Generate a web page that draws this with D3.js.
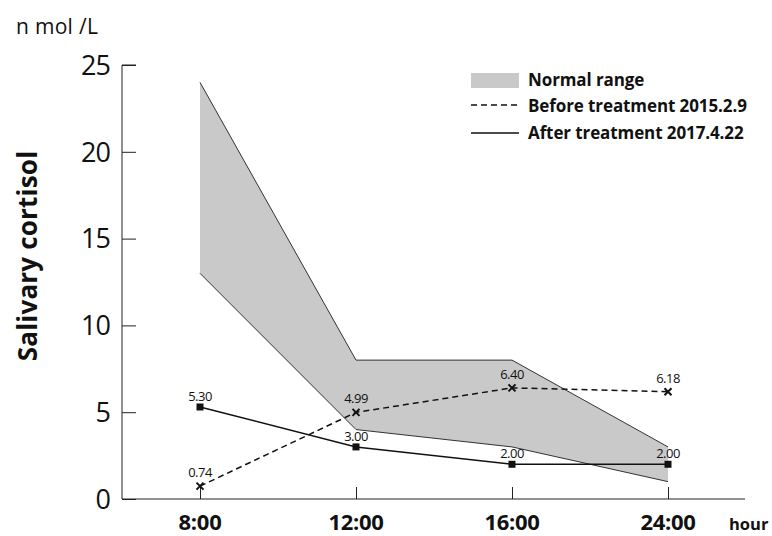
<!DOCTYPE html>
<html><head><meta charset="utf-8">
<script src="https://cdn.jsdelivr.net/npm/d3@7"></script>
<style>body{margin:0;background:#fff}svg{display:block}text{font-family:"Open Sans","Liberation Sans",sans-serif;fill:#111}</style>
</head><body><svg id="c" width="772" height="536"></svg>
<script>
const categories = ["8:00","12:00","16:00","24:00"];
const normalUpper = [24, 8, 8, 3];
const normalLower = [13, 4, 3, 1];
const beforeVals = [0.74, 4.99, 6.40, 6.18];
const afterVals = [5.30, 3.00, 2.00, 2.00];
const yTicks = [0,5,10,15,20,25];
const legendLabels = ["Normal range","Before treatment 2015.2.9","After treatment 2017.4.22"];

const svg = d3.select("#c");
const x = d3.scalePoint().domain(categories).range([200,668]);
const y = d3.scaleLinear().domain([0,25]).range([499,65]);

// normal range band
const area = d3.area().x((d,i)=>x(categories[i])).y0((d,i)=>y(normalLower[i])).y1(d=>y(d));
svg.append("path").datum(normalUpper).attr("d",area).attr("fill","#c9c9c9").attr("stroke","none");
const ln = d3.line().x((d,i)=>x(categories[i])).y(d=>y(d));
svg.append("path").datum(normalUpper).attr("d",ln).attr("fill","none").attr("stroke","#333").attr("stroke-width",1);
svg.append("path").datum(normalLower).attr("d",ln).attr("fill","none").attr("stroke","#333").attr("stroke-width",1);

// axes
const yAxis = svg.append("g").attr("transform","translate(122,0)")
  .call(d3.axisRight(y).tickValues(yTicks).tickSize(14).tickFormat(""));
yAxis.select(".domain").attr("d","M14,65H0V499");
yAxis.selectAll("line").attr("stroke","#222");
yAxis.select(".domain").attr("stroke","#222");
svg.append("g").selectAll("text").data(yTicks).join("text")
  .attr("x",110).attr("y",d=>y(d)).attr("dy","0.36em").attr("text-anchor","end")
  .attr("font-size",27).attr("font-weight",400).attr("letter-spacing","-1").text(d=>d);

const xAxis = svg.append("g").attr("transform","translate(0,499)")
  .call(d3.axisTop(x).tickSize(12).tickFormat(""));
xAxis.select(".domain").attr("d","M122,0H745").attr("stroke","#222");
xAxis.selectAll("line").attr("stroke","#222");
svg.append("g").selectAll("text").data(categories).join("text")
  .attr("x",d=>x(d)).attr("y",530).attr("text-anchor","middle")
  .attr("font-size",22).attr("font-weight",700).attr("letter-spacing","-0.3").text(d=>d);
svg.append("text").attr("x",729).attr("y",530).attr("font-size",16.5).attr("font-weight",700).text("hour");

svg.append("text").attr("x",16).attr("y",34).attr("font-size",21).attr("letter-spacing","0.3").text("n mol /L");
svg.append("text").attr("transform","translate(37,256) rotate(-90)").attr("text-anchor","middle")
  .attr("font-size",26).attr("font-weight",700).attr("letter-spacing","0.2").text("Salivary cortisol");

// before (dashed, x markers)
svg.append("path").datum(beforeVals).attr("d",ln).attr("fill","none").attr("stroke","#111")
  .attr("stroke-width",1.5).attr("stroke-dasharray","6,4");
const gb = svg.append("g");
beforeVals.forEach((v,i)=>{
  const cx=x(categories[i]), cy=y(v), s=3.5;
  gb.append("path").attr("d",`M${cx-s},${cy-s}L${cx+s},${cy+s}M${cx-s},${cy+s}L${cx+s},${cy-s}`)
    .attr("stroke","#111").attr("stroke-width",2);
});
gb.selectAll("text").data(beforeVals).join("text")
  .attr("x",(d,i)=>x(categories[i])).attr("y",d=>y(d)-9).attr("text-anchor","middle")
  .attr("font-size",13).attr("letter-spacing","-0.5").text(d=>d.toFixed(2));

// after (solid, squares)
svg.append("path").datum(afterVals).attr("d",ln).attr("fill","none").attr("stroke","#111").attr("stroke-width",1.5);
const ga = svg.append("g");
ga.selectAll("rect").data(afterVals).join("rect")
  .attr("x",(d,i)=>x(categories[i])-3.5).attr("y",d=>y(d)-3.5).attr("width",7).attr("height",7).attr("fill","#111");
ga.selectAll("text").data(afterVals).join("text")
  .attr("x",(d,i)=>x(categories[i])).attr("y",d=>y(d)-6).attr("text-anchor","middle")
  .attr("font-size",13).attr("letter-spacing","-0.5").text(d=>d.toFixed(2));

// legend
const lg = svg.append("g");
lg.append("rect").attr("x",471).attr("y",73).attr("width",48).attr("height",15).attr("fill","#c9c9c9");
lg.append("line").attr("x1",471).attr("x2",519).attr("y1",105).attr("y2",105).attr("stroke","#111").attr("stroke-width",1.5).attr("stroke-dasharray","6,4");
lg.append("line").attr("x1",471).attr("x2",519).attr("y1",133).attr("y2",133).attr("stroke","#111").attr("stroke-width",1.5);
lg.selectAll("text").data(legendLabels).join("text")
  .attr("x",528).attr("y",(d,i)=>80+i*26.5).attr("dy","0.35em")
  .attr("font-size",17).attr("font-weight",700).attr("letter-spacing","-0.1").text(d=>d);
</script></body></html>
